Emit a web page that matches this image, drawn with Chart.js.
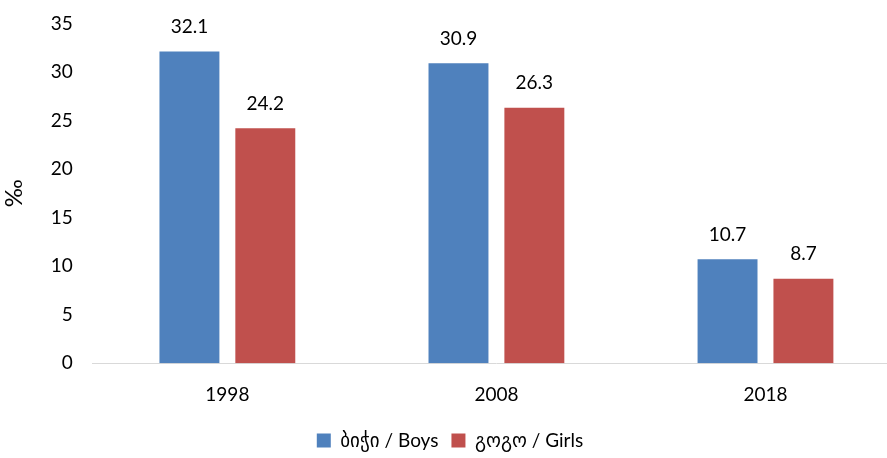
<!DOCTYPE html>
<html>
<head>
<meta charset="utf-8">
<script src="https://cdn.jsdelivr.net/npm/chart.js@4/dist/chart.umd.min.js"></script>
<style>
  html, body { margin: 0; padding: 0; background: #fff; overflow: hidden; }
  #wrap { width: 900px; height: 458px; }
</style>
</head>
<body>
<div id="wrap"><canvas id="myChart" width="900" height="458"></canvas></div>
<script>
const years = ["1998", "2008", "2018"];
const boys = [32.1, 30.9, 10.7];
const girls = [24.2, 26.3, 8.7];
const yTicks = [0, 5, 10, 15, 20, 25, 30, 35];

const FONT = "Lato, 'DejaVu Sans', sans-serif";

// values above the bars
const valueLabels = {
  id: "valueLabels",
  afterDatasetsDraw(chart) {
    const ctx = chart.ctx;
    ctx.save();
    ctx.font = "19px " + FONT;
    ctx.fillStyle = "#000";
    ctx.textAlign = "center";
    ctx.textBaseline = "bottom";
    chart.data.datasets.forEach((ds, i) => {
      chart.getDatasetMeta(i).data.forEach((bar, j) => {
        ctx.fillText(ds.data[j].toFixed(1), bar.x, bar.y - 15);
      });
    });
    ctx.restore();
  }
};

const myChart = new Chart(document.getElementById("myChart"), {
  type: "bar",
  data: {
    labels: years,
    datasets: [
      {
        label: "ბიჭი / Boys",
        data: boys,
        backgroundColor: "#4f81bd",
        categoryPercentage: 0.564,
        barPercentage: 0.79
      },
      {
        label: "გოგო / Girls",
        data: girls,
        backgroundColor: "#c0504d",
        categoryPercentage: 0.564,
        barPercentage: 0.79
      }
    ]
  },
  options: {
    responsive: false,
    animation: false,
    layout: { padding: { top: 7, left: 0, right: 0, bottom: -2 } },
    plugins: {
      legend: {
        position: "bottom",
        labels: {
          font: { size: 19, family: FONT },
          color: "#000",
          boxWidth: 14,
          boxHeight: 14,
          padding: 13
        }
      },
      tooltip: { enabled: false }
    },
    scales: {
      x: {
        grid: { display: false },
        border: { color: "#d9d9d9", width: 1 },
        ticks: { font: { size: 19, family: FONT }, color: "#000", padding: 12 }
      },
      y: {
        min: 0,
        max: 35,
        afterBuildTicks: (axis) => { axis.ticks = yTicks.map(v => ({ value: v })); },
        grid: { display: false },
        border: { display: false },
        ticks: { font: { size: 19, family: FONT }, color: "#000", padding: 12 },
        title: {
          display: true,
          text: "‰",
          font: { size: 24, family: FONT },
          color: "#000",
          padding: { top: 0, bottom: 10 }
        }
      }
    }
  },
  plugins: [valueLabels]
});
</script>
</body>
</html>
